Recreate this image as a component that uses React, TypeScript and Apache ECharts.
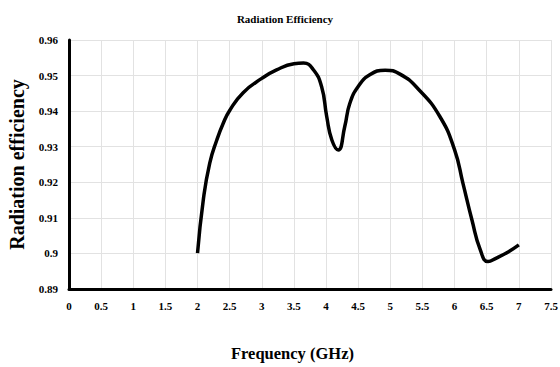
import React, { useEffect, useRef } from "react";
import * as echarts from "echarts";

const freq = [2.0, 2.09, 2.19, 2.3, 2.4, 2.5, 2.71, 3.0, 3.23, 3.5, 3.65, 3.8, 3.93, 4.01, 4.09, 4.19, 4.29, 4.37, 4.5, 4.68, 4.92, 5.15, 5.43, 5.77, 6.0, 6.13, 6.27, 6.4, 6.52, 6.65, 6.84, 7.0];
const efficiency = [0.9001, 0.9151, 0.9254, 0.9319, 0.9366, 0.9402, 0.9452, 0.9492, 0.9516, 0.9533, 0.9535, 0.9517, 0.9469, 0.9385, 0.9319, 0.9291, 0.9356, 0.9422, 0.9469, 0.9502, 0.9515, 0.9504, 0.9463, 0.9385, 0.9291, 0.9197, 0.9094, 0.901, 0.8977, 0.8987, 0.9005, 0.9024];

const titleText = "Radiation Efficiency";
const xName = "Frequency (GHz)";
const yName = "Radiation efficiency";

const serif = "Liberation Serif";

export default function App() {
  const ref = useRef<HTMLDivElement>(null);
  useEffect(() => {
    if (!ref.current) return;
    const chart = echarts.init(ref.current, null, { renderer: "svg" });
    chart.setOption({
      animation: false,
      backgroundColor: "#ffffff",
      title: {
        text: titleText,
        left: 280,
        top: 8,
        textAlign: "center",
        textStyle: { fontFamily: serif, fontWeight: "bold", fontSize: 11, color: "#000" },
      },
      grid: { left: 69, right: 9, top: 40, bottom: 78, containLabel: false, outerBoundsMode: "none" },
      xAxis: {
        type: "value",
        min: 0,
        max: 7.5,
        interval: 0.5,
        axisLine: { show: true, onZero: false, lineStyle: { color: "#000", width: 3 } },
        axisTick: { show: false },
        axisLabel: { fontFamily: serif, fontWeight: "bold", fontSize: 11, color: "#000", margin: 11 },
        splitLine: { show: true, lineStyle: { color: "#e2e2e2", width: 1 } },
      },
      yAxis: {
        type: "value",
        min: 0.89,
        max: 0.96,
        interval: 0.01,
        name: yName,
        nameLocation: "middle",
        nameGap: 42,
        nameTextStyle: { fontFamily: serif, fontWeight: "bold", fontSize: 20, color: "#000" },
        axisLine: { show: true, lineStyle: { color: "#000", width: 3 } },
        axisTick: { show: false },
        axisLabel: {
          fontFamily: serif,
          fontWeight: "bold",
          fontSize: 11,
          color: "#000",
          margin: 11,
          formatter: (v: number) => String(parseFloat(v.toFixed(2))),
        },
        splitLine: { show: true, lineStyle: { color: "#e2e2e2", width: 1 } },
      },
      graphic: [
        {
          type: "text",
          left: 291 - 60,
          top: 345,
          style: { text: xName, fontFamily: serif, fontWeight: "bold", fontSize: 16.5, fill: "#000" },
        },
      ],
      series: [
        {
          type: "line",
          data: freq.map((f, i) => [f, efficiency[i]]),
          smooth: 0.5,
          showSymbol: false,
          lineStyle: { color: "#000", width: 3.5 },
        },
      ],
    });
    return () => chart.dispose();
  }, []);
  return <div ref={ref} style={{ width: 560, height: 367, position: "absolute", left: 0, top: 0 }} />;
}
